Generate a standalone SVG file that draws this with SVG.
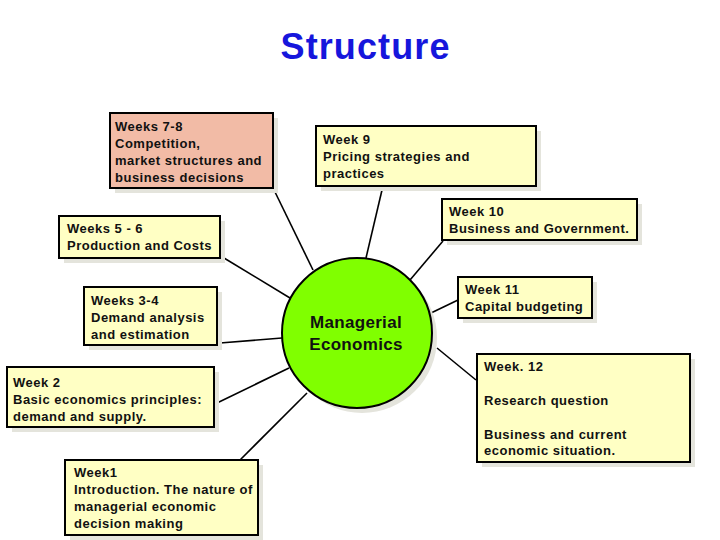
<svg xmlns="http://www.w3.org/2000/svg" width="720" height="540" viewBox="0 0 720 540">
<style>
.bx{fill:#ffffc4;stroke:#000;stroke-width:2}
.sal{fill:#f2bba6}
.sh{fill:#e4e4dc}
.t{font-family:"Liberation Sans",Arial,sans-serif;font-weight:bold;font-size:13px;fill:#111;letter-spacing:0.5px}
.c{stroke:#000;stroke-width:1.6;fill:none}
</style>
<rect width="720" height="540" fill="#fff"/>
<text x="365" y="59" text-anchor="middle" font-family="Liberation Sans,Arial,sans-serif" font-weight="bold" font-size="36" fill="#1616dc" textLength="169">Structure</text>
<g id="connectors">
<line class="c" x1="275" y1="192" x2="313" y2="270"/>
<line class="c" x1="382" y1="190" x2="366" y2="258"/>
<line class="c" x1="224" y1="258" x2="290" y2="298"/>
<line class="c" x1="443" y1="241" x2="410" y2="280"/>
<line class="c" x1="220" y1="343" x2="282" y2="338"/>
<line class="c" x1="458" y1="300" x2="431" y2="313"/>
<line class="c" x1="476" y1="380" x2="437" y2="348"/>
<line class="c" x1="217" y1="403" x2="289" y2="368"/>
<line class="c" x1="240" y1="460" x2="307" y2="393"/>
</g>
<g id="center">
<circle cx="362" cy="338" r="75" fill="#e4e4dc"/>
<circle cx="357" cy="333" r="75" fill="#80ff00" stroke="#000" stroke-width="2"/>
<text class="t" x="356" y="328" text-anchor="middle" style="font-size:17px;letter-spacing:0.3px">Managerial</text>
<text class="t" x="356" y="350" text-anchor="middle" style="font-size:17px;letter-spacing:0.3px">Economics</text>
</g>
<g id="w78">
<rect class="sh" x="115" y="118" width="163" height="75"/>
<rect class="bx sal" x="110" y="113" width="163" height="75"/>
<text class="t" x="115" y="131">Weeks 7-8</text>
<text class="t" x="115" y="148">Competition,</text>
<text class="t" x="115" y="165">market structures and</text>
<text class="t" x="115" y="182">business decisions</text>
</g>
<g id="w9">
<rect class="sh" x="321" y="131" width="220" height="60"/>
<rect class="bx" x="316" y="126" width="220" height="60"/>
<text class="t" x="323" y="144">Week 9</text>
<text class="t" x="323" y="161">Pricing strategies and</text>
<text class="t" x="323" y="178">practices</text>
</g>
<g id="w56">
<rect class="sh" x="64" y="221" width="161" height="42"/>
<rect class="bx" x="59" y="216" width="161" height="42"/>
<text class="t" x="67" y="233">Weeks 5 - 6</text>
<text class="t" x="67" y="250">Production and Costs</text>
</g>
<g id="w10">
<rect class="sh" x="447" y="204" width="195" height="41"/>
<rect class="bx" x="442" y="199" width="195" height="41"/>
<text class="t" x="449" y="216">Week 10</text>
<text class="t" x="449" y="233">Business and Government.</text>
</g>
<g id="w34">
<rect class="sh" x="89" y="292" width="133" height="58"/>
<rect class="bx" x="84" y="287" width="133" height="58"/>
<text class="t" x="91" y="305">Weeks 3-4</text>
<text class="t" x="91" y="322">Demand analysis</text>
<text class="t" x="91" y="339">and estimation</text>
</g>
<g id="w11">
<rect class="sh" x="463" y="282" width="134" height="41"/>
<rect class="bx" x="458" y="277" width="134" height="41"/>
<text class="t" x="465" y="294">Week 11</text>
<text class="t" x="465" y="311">Capital budgeting</text>
</g>
<g id="w12">
<rect class="sh" x="482" y="359" width="213" height="108"/>
<rect class="bx" x="477" y="354" width="213" height="108"/>
<text class="t" x="484" y="371">Week. 12</text>
<text class="t" x="484" y="405">Research question</text>
<text class="t" x="484" y="439">Business and current</text>
<text class="t" x="484" y="455">economic situation.</text>
</g>
<g id="w2">
<rect class="sh" x="12" y="372" width="207" height="60"/>
<rect class="bx" x="7" y="367" width="207" height="60"/>
<text class="t" x="13" y="387">Week 2</text>
<text class="t" x="13" y="404">Basic economics principles:</text>
<text class="t" x="13" y="421">demand and supply.</text>
</g>
<g id="w1">
<rect class="sh" x="70" y="465" width="193" height="75"/>
<rect class="bx" x="65" y="460" width="193" height="75"/>
<text class="t" x="74" y="477">Week1</text>
<text class="t" x="74" y="494">Introduction. The nature of</text>
<text class="t" x="74" y="511">managerial economic</text>
<text class="t" x="74" y="528">decision making</text>
</g>
</svg>
